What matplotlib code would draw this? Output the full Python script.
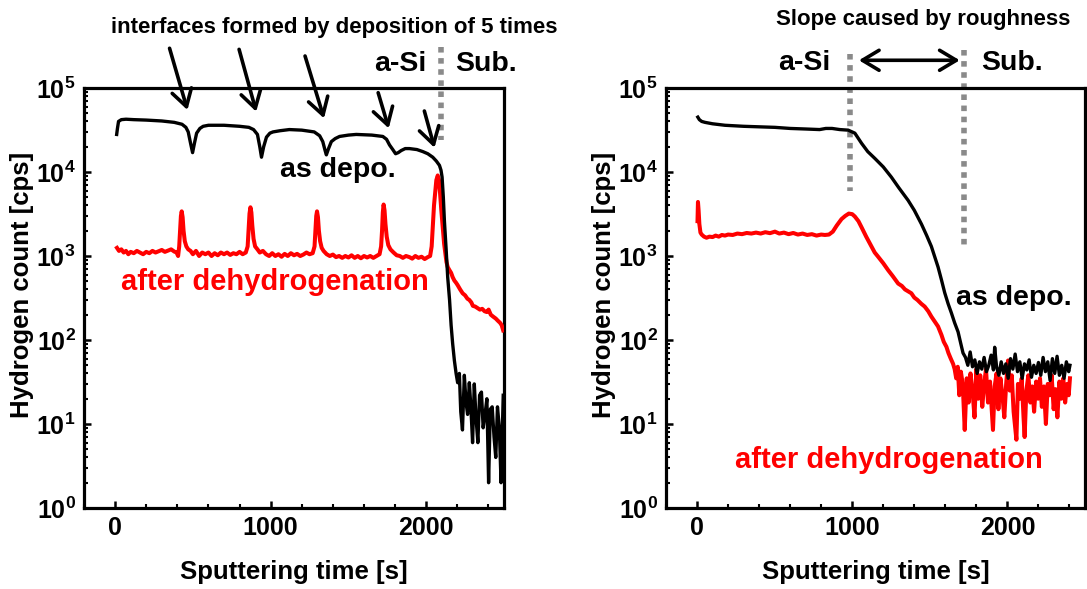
import matplotlib
matplotlib.use('Agg')
import matplotlib.pyplot as plt
from matplotlib.ticker import MultipleLocator, LogLocator, NullFormatter

plt.rcParams.update({'font.family': 'Liberation Sans', 'font.weight': 'bold',
                     'axes.labelweight': 'bold', 'font.size': 18})

# ---- left panel: multilayer a-Si ----
t_dep_L = [10, 15, 22, 40, 70, 120, 200, 300, 380, 430, 455, 470, 485, 498, 510, 524, 545, 566,
           600, 700, 800, 860, 890, 915, 930, 941, 955, 973, 995, 1015, 1060, 1120, 1200, 1280,
           1315, 1335, 1350, 1358, 1372, 1390, 1415, 1443, 1500, 1550, 1650, 1721, 1745, 1764,
           1785, 1803, 1820, 1839, 1865, 1892, 1940, 1978, 2010, 2042, 2065, 2085, 2095, 2102,
           2110, 2117, 2128, 2138, 2150, 2160, 2170, 2181, 2192, 2202, 2213, 2222, 2233, 2245,
           2256, 2266, 2277, 2287, 2298, 2309, 2320, 2332, 2343, 2355, 2366, 2378, 2390, 2401,
           2412, 2424, 2436, 2447, 2458, 2470, 2481, 2495]
h_dep_L = [2.8e4, 3.3e4, 4.0e4, 4.2e4, 4.25e4, 4.2e4, 4.15e4, 4.05e4, 3.9e4, 3.7e4, 3.4e4, 3.0e4,
           2.2e4, 1.7e4, 2.2e4, 2.9e4, 3.3e4, 3.5e4, 3.6e4, 3.6e4, 3.5e4, 3.4e4, 3.2e4, 2.8e4,
           2.0e4, 1.5e4, 2.0e4, 2.6e4, 2.9e4, 3.0e4, 3.1e4, 3.2e4, 3.15e4, 3.0e4, 2.7e4, 2.3e4,
           1.8e4, 1.6e4, 1.9e4, 2.3e4, 2.5e4, 2.65e4, 2.75e4, 2.8e4, 2.75e4, 2.65e4, 2.45e4,
           2.1e4, 1.85e4, 1.65e4, 1.7e4, 1.8e4, 1.9e4, 1.9e4, 1.85e4, 1.75e4, 1.65e4, 1.5e4,
           1.35e4, 1.2e4, 1.05e4, 8.7e3, 5.0e3, 2.6e3, 1.2e3, 560, 300, 150, 90, 57, 40, 31,
           40, 14, 8.5, 38, 18, 13, 31, 16, 6, 30, 12, 6, 22, 24, 9, 13, 20, 2, 15, 16, 7, 4,
           16, 9, 2, 22]

t_deh_L = [12, 25, 40, 55, 70, 85, 100, 120, 140, 160, 180, 200, 220, 240, 260, 280, 300, 320,
           340, 360, 380, 395, 405, 412, 418, 423, 428, 434, 440, 448, 458, 470, 485, 500, 520,
           540, 560, 580, 600, 620, 640, 660, 680, 700, 720, 740, 760, 780, 800, 820, 840, 852,
           858, 864, 870, 876, 882, 890, 900, 915, 930, 950, 970, 990, 1010, 1030, 1050, 1070,
           1090, 1110, 1130, 1150, 1170, 1190, 1210, 1230, 1250, 1270, 1282, 1288, 1293, 1298,
           1304, 1310, 1318, 1328, 1340, 1360, 1380, 1400, 1420, 1440, 1460, 1480, 1500, 1520,
           1540, 1560, 1580, 1600, 1620, 1640, 1660, 1680, 1700, 1710, 1716, 1721, 1726, 1732,
           1738, 1746, 1756, 1770, 1790, 1810, 1830, 1850, 1870, 1892, 1910, 1930, 1950, 1970,
           1990, 2010, 2025, 2035, 2042, 2050, 2057, 2065, 2074, 2082, 2089, 2097, 2106, 2115,
           2123, 2130, 2138, 2149, 2160, 2170, 2181, 2192, 2202, 2218, 2234, 2250, 2265, 2277,
           2290, 2300, 2315, 2330, 2345, 2360, 2375, 2390, 2401, 2415, 2430, 2447, 2460, 2475,
           2485, 2495]
h_deh_L = [1250, 1150, 1200, 1100, 1150, 1050, 1120, 1080, 1150, 1100, 1050, 1120, 1080, 1150,
           1100, 1140, 1180, 1120, 1160, 1200, 1130, 1100, 1000, 1300, 2000, 3000, 3400, 2900,
           2000, 1500, 1300, 1200, 1150, 1050, 1150, 1000, 1100, 1050, 1100, 1000, 1080, 1020,
           1100, 1050, 1100, 1030, 1080, 1050, 1120, 1050, 1100, 1300, 2000, 3200, 3800, 3300,
           2300, 1600, 1300, 1200, 1100, 1150, 1050, 1000, 1080, 1000, 1050, 980, 1060, 1000,
           1080, 1020, 1060, 1000, 1040, 1100, 1050, 1080, 1300, 2000, 3000, 3400, 2900, 2000,
           1500, 1250, 1150, 1050, 1000, 1040, 970, 1000, 950, 1000, 960, 1020, 950, 1000, 940,
           1000, 960, 1000, 950, 1000, 1050, 1300, 2000, 3300, 4100, 3500, 2400, 1700, 1350,
           1200, 1100, 1020, 1000, 950, 1000, 970, 930, 1000, 950, 980, 920, 970, 1000, 1300,
           2200, 4000, 5600, 8000, 9100, 8000, 5600, 3500, 2200, 1400, 1070, 850, 740, 680, 630,
           560, 510, 480, 450, 400, 360, 340, 310, 300, 280, 255, 250, 240, 230, 235, 220, 215,
           230, 200, 190, 180, 170, 160, 150, 130]

# ---- right panel: single a-Si layer ----
t_dep_R = [5, 15, 30, 51, 100, 180, 300, 400, 502, 600, 700, 790, 830, 870, 920, 974, 1017, 1060,
           1100, 1146, 1200, 1252, 1300, 1360, 1400, 1446, 1480, 1510, 1530, 1553, 1575, 1596,
           1618, 1639, 1660, 1682, 1700, 1714, 1730, 1745, 1760, 1775, 1790, 1805, 1820, 1835,
           1850, 1865, 1880, 1895, 1910, 1918, 1930, 1945, 1960, 1975, 1990, 2005, 2020, 2035,
           2050, 2065, 2080, 2095, 2110, 2125, 2140, 2155, 2170, 2185, 2200, 2215, 2230, 2245,
           2260, 2275, 2290, 2305, 2320, 2335, 2350, 2365, 2380, 2395, 2403]
h_dep_R = [4.5e4, 4.2e4, 4.0e4, 3.9e4, 3.75e4, 3.6e4, 3.5e4, 3.45e4, 3.4e4, 3.3e4, 3.25e4, 3.2e4,
           3.3e4, 3.3e4, 3.2e4, 3.15e4, 2.9e4, 2.2e4, 1.75e4, 1.45e4, 1.15e4, 8.7e3, 6.5e3,
           4.6e3, 3.5e3, 2.4e3, 1.75e3, 1.3e3, 1.0e3, 740, 520, 365, 270, 210, 160, 125, 90, 70,
           62, 50, 72, 48, 58, 40, 55, 45, 62, 42, 50, 66, 44, 82, 48, 38, 55, 40, 52, 35, 60,
           45, 68, 42, 55, 35, 52, 44, 58, 36, 50, 40, 54, 38, 62, 42, 55, 33, 60, 40, 64, 38,
           50, 35, 55, 42, 50]

t_deh_R = [3, 6, 10, 15, 22, 30, 45, 61, 80, 100, 120, 140, 160, 180, 200, 230, 260, 290, 320,
           350, 380, 410, 440, 470, 502, 530, 560, 590, 620, 650, 680, 710, 740, 770, 800, 824,
           850, 875, 900, 931, 955, 978, 1000, 1017, 1040, 1060, 1090, 1124, 1145, 1167, 1200,
           1231, 1260, 1296, 1320, 1340, 1360, 1381, 1400, 1420, 1445, 1467, 1490, 1510, 1532,
           1553, 1575, 1590, 1607, 1620, 1635, 1650, 1660, 1670, 1680, 1690, 1700, 1712, 1725,
           1738, 1750, 1762, 1775, 1788, 1800, 1812, 1825, 1838, 1850, 1862, 1875, 1888, 1900,
           1907, 1918, 1930, 1942, 1955, 1968, 1980, 1992, 2004, 2015, 2028, 2040, 2050, 2058,
           2068, 2080, 2092, 2104, 2111, 2122, 2135, 2148, 2160, 2172, 2185, 2198, 2210, 2222,
           2235, 2248, 2260, 2272, 2285, 2298, 2310, 2322, 2335, 2348, 2360, 2372, 2385, 2395,
           2403]
h_deh_R = [2600, 4400, 3500, 2400, 1900, 1800, 1700, 1650, 1700, 1680, 1750, 1700, 1780, 1750,
           1800, 1780, 1850, 1820, 1880, 1850, 1900, 1850, 1920, 1870, 1950, 1850, 1900, 1820,
           1880, 1800, 1850, 1780, 1820, 1750, 1800, 1780, 1800, 1950, 2300, 2750, 3000, 3200,
           3150, 2950, 2600, 2200, 1700, 1300, 1100, 980, 820, 680, 580, 470, 440, 400, 380, 360,
           320, 300, 270, 250, 220, 190, 165, 145, 115, 95, 83, 70, 60, 52, 45, 35, 48, 22, 42,
           30, 8.5, 35, 18, 40, 25, 12, 45, 20, 38, 16, 30, 45, 18, 32, 14, 8.5, 28, 40, 15, 35,
           22, 12, 30, 57, 25, 38, 14, 9, 6.5, 30, 20, 35, 12, 7, 25, 38, 18, 28, 14, 32, 20, 35,
           16, 28, 10, 30, 22, 38, 15, 26, 12, 32, 20, 35, 18, 30, 22, 35]

GRAY = '#8a8a8a'


def style_axis(axis):
	axis.set_yscale('log')
	axis.set_ylim(1, 1e5)
	axis.set_xlim(-200, 2500)
	axis.xaxis.set_major_locator(MultipleLocator(1000))
	axis.xaxis.set_minor_locator(MultipleLocator(200))
	axis.yaxis.set_major_locator(LogLocator(base=10, numticks=10))
	axis.yaxis.set_minor_locator(LogLocator(base=10, subs=range(2, 10), numticks=10))
	axis.yaxis.set_minor_formatter(NullFormatter())
	axis.tick_params(which='major', direction='in', length=5, width=1.8, labelsize=18, pad=6)
	axis.tick_params(which='minor', direction='in', length=3, width=1.5)
	for spine in axis.spines.values():
		spine.set_linewidth(2.3)
	axis.set_xlabel('Sputtering time [s]', fontsize=18.5, va='center')
	axis.set_ylabel('Hydrogen count [cps]', fontsize=18.5, va='center')
	axis.xaxis.set_label_coords(0.5, -0.152)
	axis.yaxis.set_label_coords(-0.148, 0.532)


def vdots(axis, t, y0, y1):
	axis.plot([t, t], [10 ** y0, 10 ** y1], color=GRAY, lw=4, linestyle=(0, (1, 1)),
	          clip_on=False, zorder=1)


fig = plt.figure(figsize=(10.87, 5.89), dpi=100)
ax1 = fig.add_axes([84 / 1087, 1 - 508 / 589, 420 / 1087, 420 / 589])
ax2 = fig.add_axes([666 / 1087, 1 - 508 / 589, 419 / 1087, 420 / 589])

# left
style_axis(ax1)
ax1.plot(t_deh_L, h_deh_L, color='#ff0000', lw=2.9, zorder=3)
ax1.plot(t_dep_L, h_dep_L, color='black', lw=2.4, zorder=4)
vdots(ax1, 2096, 5.49, 4.38)
ax1.text(1411, 10 ** 5.651, 'interfaces formed by deposition of 5 times', fontsize=16,
         ha='center', va='baseline')
ax1.text(2001, 10 ** 5.206, 'a-Si', fontsize=20.5, ha='right', va='baseline')
ax1.text(2183, 10 ** 5.206, 'Sub.', fontsize=20.5, ha='left', va='baseline')
ax1.text(1058, 10 ** 3.944, 'as depo.', fontsize=20.5, ha='left', va='baseline')
ax1.text(38, 10 ** 2.595, 'after dehydrogenation', fontsize=21, ha='left', va='baseline',
         color='#ff0000')
arrows = [((350, 5.473), (465, 4.738)), ((797, 5.46), (907, 4.718)),
          ((1221, 5.381), (1343, 4.639)), ((1691, 4.944), (1759, 4.52)),
          ((1988, 4.726), (2053, 4.289))]
for (x0, y0), (x1, y1) in arrows:
	ax1.annotate('', xy=(x1, 10 ** y1), xytext=(x0, 10 ** y0), annotation_clip=False,
	             arrowprops=dict(arrowstyle='->,head_length=0.6,head_width=0.36',
	                             lw=2.6, color='black', mutation_scale=20,
	                             shrinkA=0, shrinkB=0))

# right
style_axis(ax2)
ax2.plot(t_deh_R, h_deh_R, color='#ff0000', lw=2.9, zorder=3)
ax2.plot(t_dep_R, h_dep_R, color='black', lw=2.4, zorder=4)
vdots(ax2, 983, 5.41, 3.77)
vdots(ax2, 1719, 5.45, 3.13)
ax2.annotate('', xy=(1693, 10 ** 5.33), xytext=(1043, 10 ** 5.33), annotation_clip=False,
             arrowprops=dict(arrowstyle='<->,head_length=0.6,head_width=0.36',
                             lw=2.6, color='black', mutation_scale=20, shrinkA=0, shrinkB=0))
ax2.text(1455, 10 ** 5.75, 'Slope caused by roughness', fontsize=16, ha='center', va='baseline')
ax2.text(860, 10 ** 5.214, 'a-Si', fontsize=20.5, ha='right', va='baseline')
ax2.text(1829, 10 ** 5.214, 'Sub.', fontsize=20.5, ha='left', va='baseline')
ax2.text(1671, 10 ** 2.417, 'as depo.', fontsize=20.5, ha='left', va='baseline')
ax2.text(243, 10 ** 0.473, 'after dehydrogenation', fontsize=21, ha='left', va='baseline',
         color='#ff0000')

fig.savefig('out.png', dpi=100)
